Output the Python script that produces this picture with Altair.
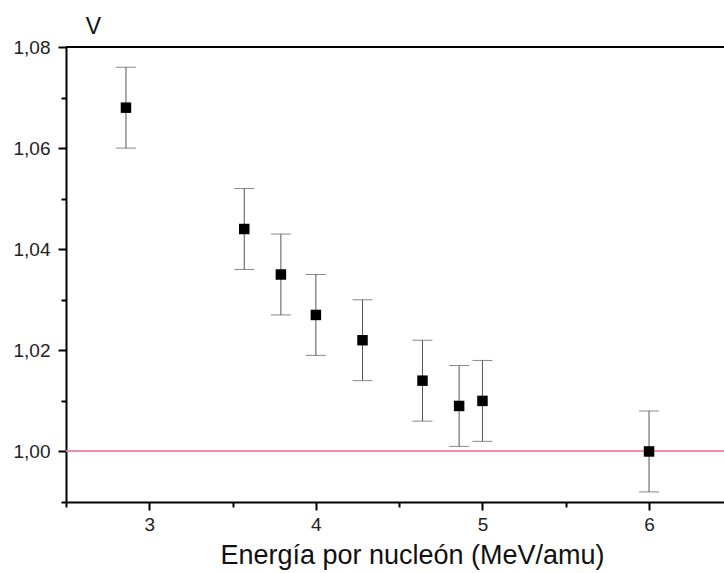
import altair as alt
import pandas as pd

# Energy per nucleon (MeV/amu) and measured V with its uncertainty
energy = [2.86, 3.57, 3.79, 4.00, 4.28, 4.64, 4.86, 5.00, 6.00]
v_value = [1.068, 1.044, 1.035, 1.027, 1.022, 1.014, 1.009, 1.010, 1.000]
v_err = [0.008, 0.008, 0.008, 0.008, 0.008, 0.008, 0.008, 0.008, 0.008]

# major ticks carry labels, the ones in between are short unlabeled ticks
x_ticks = [2.5, 3, 3.5, 4, 4.5, 5, 5.5, 6]
y_ticks = [0.99, 1.00, 1.01, 1.02, 1.03, 1.04, 1.05, 1.06, 1.07, 1.08]

df = pd.DataFrame({"E": energy, "V": v_value, "err": v_err})
df["lo"] = df["V"] - df["err"]
df["hi"] = df["V"] + df["err"]

FONT = "Liberation Sans"
x_scale = alt.Scale(domain=[2.5, 6.45], nice=False, zero=False)
y_scale = alt.Scale(domain=[0.99, 1.08], nice=False, zero=False)

x_major = "abs(datum.value - round(datum.value)) < 0.001"
y_major = "abs(round(datum.value * 100) % 2) < 0.5"

x_axis = alt.Axis(
    values=x_ticks, title="Energía por nucleón (MeV/amu)", grid=False,
    domainColor="black", domainWidth=2, tickColor="black", tickWidth=2,
    tickSize={"condition": {"test": x_major, "value": 8}, "value": 5},
    labelFontSize={"condition": {"test": x_major, "value": 19}, "value": 19},
    labelFont=FONT, labelColor="#222", labelPadding=5,
    labelExpr=f"({x_major}) ? format(datum.value, 'd') : ''",
    titleFont=FONT, titleFontSize=27, titleFontWeight="normal",
    titleColor="#111", titleAlign="center", titleBaseline="alphabetic",
    titleX=346, titleY=61,
)
y_axis = alt.Axis(
    values=y_ticks, title="V", grid=False,
    domainColor="black", domainWidth=2, tickColor="black", tickWidth=2,
    tickSize={"condition": {"test": y_major, "value": 8}, "value": 5},
    labelFontSize=19, labelFont=FONT, labelColor="#222", labelPadding=8,
    labelExpr=f"({y_major}) ? replace(format(datum.value, '.2f'), '.', ',') : ''",
    titleFont=FONT, titleFontSize=23, titleFontWeight="normal", titleColor="#111",
    titleAngle=0, titleAlign="center", titleBaseline="alphabetic", titleX=27, titleY=-14,
)

base = alt.Chart(df)

bars = base.mark_rule(color="#555", strokeWidth=1).encode(
    x=alt.X("E:Q", scale=x_scale, axis=x_axis),
    y=alt.Y("lo:Q", scale=y_scale, axis=y_axis),
    y2="hi:Q",
)
caps_lo = base.mark_tick(orient="horizontal", size=20, thickness=1, color="#555").encode(
    x="E:Q", y="lo:Q")
caps_hi = base.mark_tick(orient="horizontal", size=20, thickness=1, color="#555").encode(
    x="E:Q", y="hi:Q")
points = base.mark_square(size=110, color="black", opacity=1).encode(x="E:Q", y="V:Q")

# reference level at V = 1 and the frame line along the top of the plot
ref_line = alt.Chart(df).mark_rule(color="#f08ca0", strokeWidth=1.2).encode(
    y=alt.datum(1.0))
top_line = alt.Chart(df).mark_rule(color="black", strokeWidth=2).encode(
    y=alt.datum(1.08))

chart = alt.layer(
    bars, caps_lo, caps_hi, ref_line, top_line, points
).properties(
    width=658, height=455,
    autosize=alt.AutoSizeParams(type="none"),
    padding={"left": 66, "top": 47, "right": 0, "bottom": 71},
    background="white",
).configure_view(stroke=None).configure_axis(grid=False, labelFont=FONT)

chart.save("out.html", embed_options={"renderer": "svg", "actions": False})
